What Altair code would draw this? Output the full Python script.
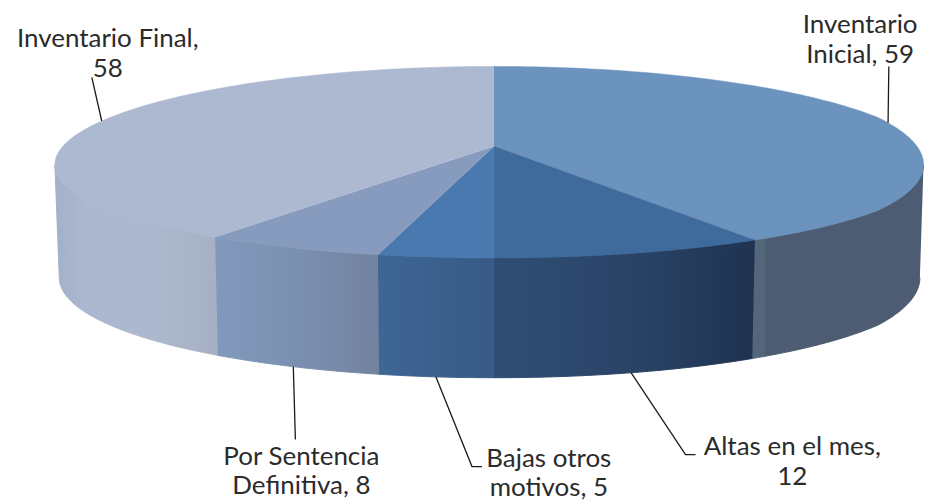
import math
import altair as alt
import pandas as pd

categories = ["Inventario Inicial", "Altas en el mes", "Bajas otros motivos", "Por Sentencia Definitiva", "Inventario Final"]
values = [59, 12, 5, 8, 58]
top_colors = ["#6B93BD", "#3F6A9C", "#4A79B0", "#879BBE", "#ADB9D1"]
wall_stops = [
    [(0, "#54677A"), (0.07, "#54677A"), (0.075, "#4D5C72"), (1, "#4D5C72")],
    [(0, "#2F4E74"), (0.5, "#2A4468"), (1, "#1F3350")],
    [(0, "#3F6695"), (1, "#375A85")],
    [(0, "#8199BC"), (0.5, "#7B90B1"), (1, "#72829F")],
    [(0, "#A2B0C9"), (0.2, "#ACB8D0"), (0.6, "#ACB8CE"), (1, "#A6B0C3")],
]
label_lines = [["Inventario", "Inicial, 59"], ["Altas en el mes,", "12"], ["Bajas otros", "motivos, 5"], ["Por Sentencia", "Definitiva, 8"], ["Inventario Final,", "58"]]

# layout (page pixels)
CX, CY = 495, 146
RX, RY, K, KX = 432, 93.33, 1 / 6, 0.19
BOTTOM_Y, BOTTOM_RY, BOTTOM_SX = 258, 100, 0.99
label_anchor = [(862, 33), (794, 455), (550, 467), (302, 465), (108, 47)]
LINE_GAP = 30
leader_path = [
    [(893, 66)],
    [(687, 455), (697, 455)],
    [(473, 467), (483, 467)],
    [(296, 440)],
    [(92, 77)],
]
FONT, FSIZE = "Lato", 26
# the page leaves 918px of drawing width, so the last pixels are eased inwards
EASE_FROM, EASE_SRC, EASE_DST = 880, 935, 925.5


def ease(x):
    if x <= EASE_FROM:
        return x
    return EASE_FROM + (x - EASE_FROM) * (EASE_DST - EASE_FROM) / (EASE_SRC - EASE_FROM)


def top_rim(t):
    u, v = math.sin(t), -math.cos(t)
    return CX + RX * u / (1 - KX * v), CY + RY * v / (1 - K * v)


def bottom_rim(t):
    u, v = math.sin(t), -math.cos(t)
    return CX + BOTTOM_SX * RX * u / (1 - KX * v), BOTTOM_Y + BOTTOM_RY * v / (1 - K * v)


total = sum(values)
edges = [0]
for val in values:
    edges.append(edges[-1] + val / total * 2 * math.pi)

FRONT_A = math.acos(-KX)
FRONT_B = 2 * math.pi - FRONT_A
xs = alt.Scale(domain=[8, 926], nice=False, zero=False)
ys = alt.Scale(domain=[501, 8], nice=False, zero=False)


def arc(a, b, fn, n=60):
    return [fn(a + (b - a) * i / n) for i in range(n + 1)]


def shape(points, **mark):
    df = pd.DataFrame({"x": [ease(p[0]) for p in points], "y": [p[1] for p in points], "i": list(range(len(points)))})
    return alt.Chart(df).mark_line(interpolate="linear", **mark).encode(
        x=alt.X("x:Q", scale=xs, axis=None),
        y=alt.Y("y:Q", scale=ys, axis=None),
        order="i:Q",
    )


layers = []
for i in range(len(values)):
    a, b = max(edges[i], FRONT_A), min(edges[i + 1], FRONT_B)
    if a < b:
        pts = arc(a, b, top_rim) + arc(b, a, bottom_rim)
        grad = alt.LinearGradient(gradient="linear", x1=0, y1=0, x2=1, y2=0,
                                  stops=[alt.GradientStop(offset=o, color=c) for o, c in wall_stops[i]])
        layers.append(shape(pts, fill=grad, stroke=grad, strokeWidth=1))

for i in range(len(values)):
    pts = [(CX, CY)] + arc(edges[i], edges[i + 1], top_rim, 120)
    layers.append(shape(pts, fill=top_colors[i], stroke=top_colors[i], strokeWidth=0.5))

for i in range(len(values)):
    mid = (edges[i] + edges[i + 1]) / 2
    start = bottom_rim(mid) if math.cos(mid) < 0 else top_rim(mid)
    layers.append(shape([start] + leader_path[i], stroke="#1a1a1a", strokeWidth=1.3))

rows = []
for i, lines in enumerate(label_lines):
    for j, line in enumerate(lines):
        rows.append({"x": label_anchor[i][0], "y": label_anchor[i][1] + j * LINE_GAP, "t": line})
layers.append(
    alt.Chart(pd.DataFrame(rows)).mark_text(font=FONT, fontSize=FSIZE, color="#2b2b2b", align="center", baseline="alphabetic").encode(
        x=alt.X("x:Q", scale=xs, axis=None),
        y=alt.Y("y:Q", scale=ys, axis=None),
        text="t:N",
    )
)

chart = alt.layer(*layers).properties(width=918, height=493, padding=0, background="white").configure_view(stroke=None)
chart.save("out.html", embed_options={"renderer": "svg", "actions": False})
